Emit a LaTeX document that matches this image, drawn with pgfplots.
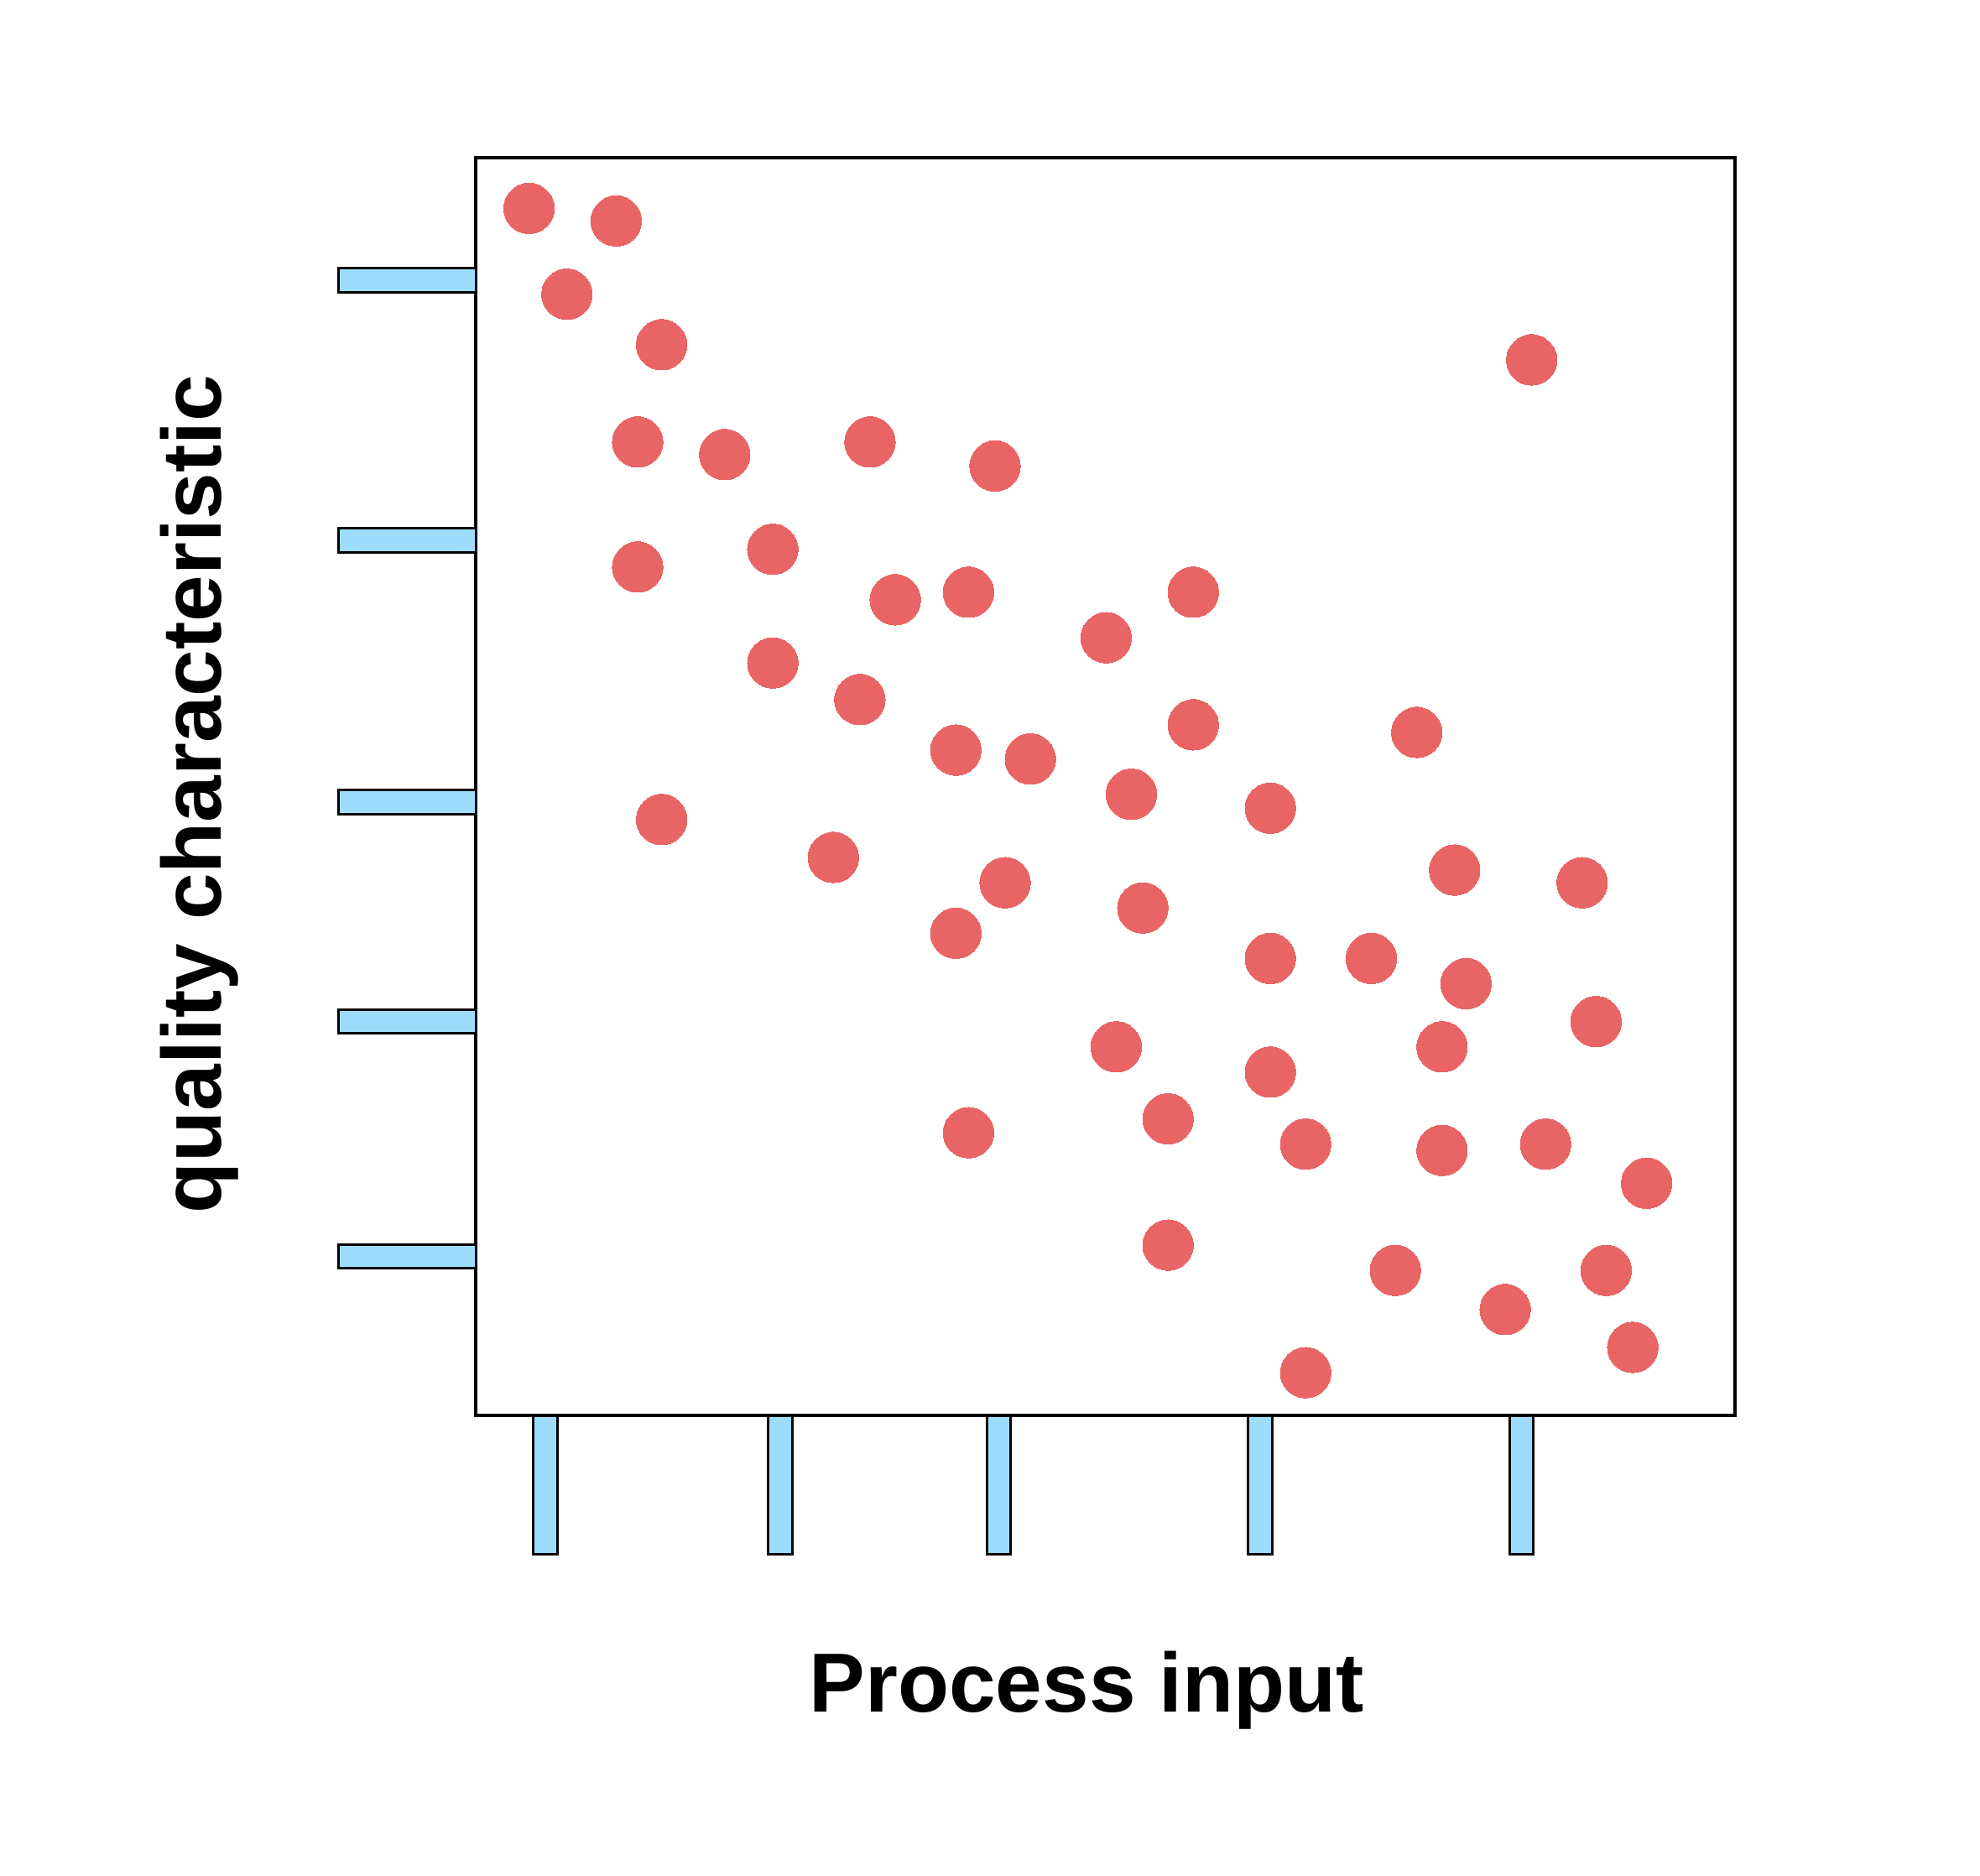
\documentclass[border=0pt]{standalone}
\usepackage{pgfplots}
\pgfplotsset{compat=1.18}
\usepackage{fontspec}
\setmainfont{Liberation Sans}
\definecolor{dotred}{HTML}{E96464}
\definecolor{rugblue}{HTML}{9DDCFD}
\begin{document}
\begin{tikzpicture}
\begin{axis}[
  scale only axis,
  width=249.25pt, height=249pt,
  xmin=0, xmax=997, ymin=0, ymax=996,
  axis line style={line width=0.65pt},
  xtick=\empty, ytick=\empty,
  clip=false,
  xlabel={\bfseries Process input},
  ylabel={\bfseries quality characteristic},
  label style={font=\fontsize{16.6}{20}\selectfont\bfseries},
  xlabel style={at={(rel axis cs:0.485,-0.2356)}, anchor=base},
  ylabel style={at={(rel axis cs:-0.2025,0.494)}, anchor=base, rotate=0},
]
\path (rel axis cs:-0.3781,-0.3655) rectangle (rel axis cs:1.1946,1.1255);
% left rug
\addplot[xbar, bar shift=0pt, bar width=19, fill=rugblue, draw=black, line width=0.5pt]
  coordinates {(-109,899) (-109,693) (-109,486) (-109,312) (-109,126)};
% bottom rug
\addplot[ybar, bar shift=0pt, bar width=19, fill=rugblue, draw=black, line width=0.5pt]
  coordinates {(55,-110) (241,-110) (414,-110) (621,-110) (828,-110)};
% points
\addplot[only marks, color=dotred, mark=*, mark size=5pt, mark options={fill=dotred, draw=dotred, line width=0pt}]
  coordinates {
(42,956) (111,946) (72,888) (147,848) (836,836) (128,771) (197,761) (312,771)
(411,752) (128,672) (235,686) (332,646) (390,652) (568,652) (499,616) (235,596)
(304,567) (568,547) (745,541) (380,527) (439,520) (519,492) (629,481) (147,472)
(283,442) (775,432) (876,422) (419,422) (528,402) (380,382) (629,362) (709,362)
(784,342) (887,312) (507,292) (765,292) (629,272) (548,235) (390,224) (657,215)
(765,210) (847,215) (927,184) (548,135) (728,115) (895,115) (815,84) (916,54)
(657,34)
  };
\end{axis}
\end{tikzpicture}
\end{document}
